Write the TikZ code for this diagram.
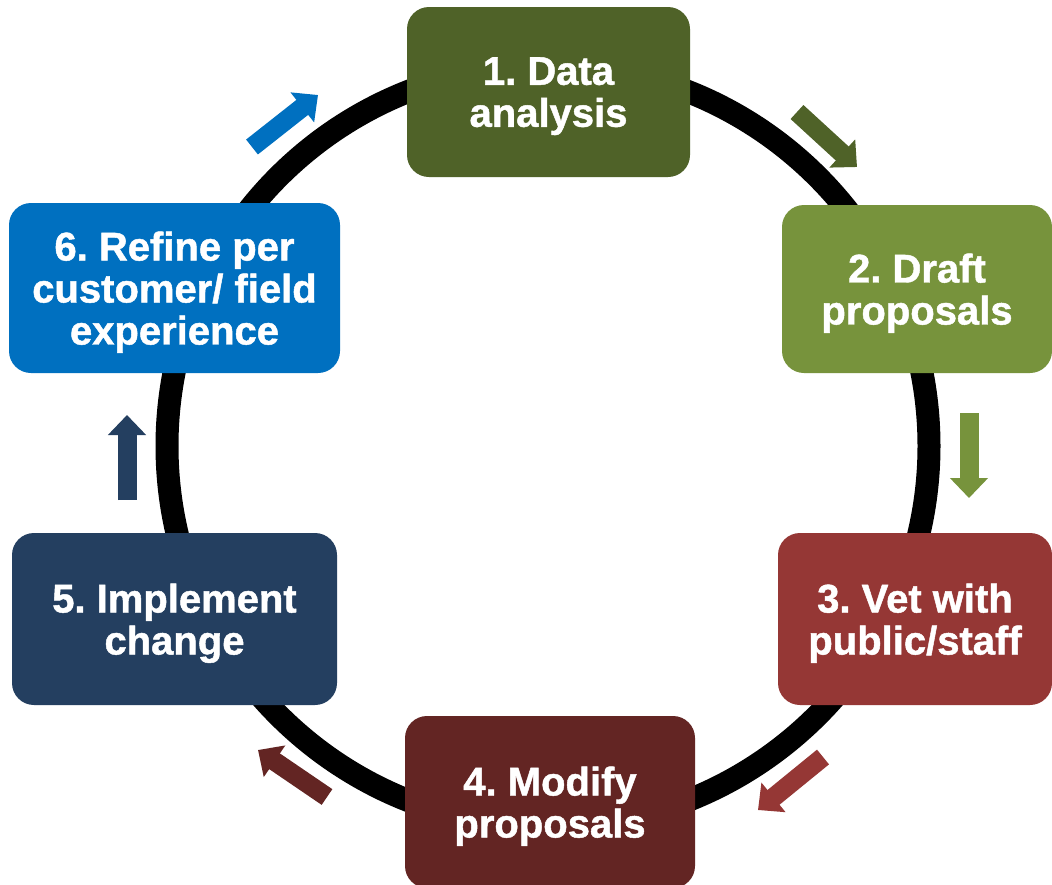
\documentclass[tikz,border=0pt]{standalone}
\usepackage{fontspec}
\setmainfont{Liberation Sans}[BoldFeatures={FakeBold=1.2}]
\usetikzlibrary{arrows.meta}
\definecolor{cA}{HTML}{4F6228}
\definecolor{cB}{HTML}{77933C}
\definecolor{cC}{HTML}{953735}
\definecolor{cD}{HTML}{632523}
\definecolor{cE}{HTML}{243F60}
\definecolor{cF}{HTML}{0070C0}
\frenchspacing
\tikzset{
  stagebox/.style={rectangle, rounded corners=22pt, inner sep=0pt, align=center,
    text depth=0pt, text=white, font=\frenchspacing\bfseries\fontsize{40}{42}\selectfont},
  blockarrow/.style={line width=19pt, -{Triangle[width=37pt,length=20pt]}},
  ring/.style={line width=23pt, black}
}
\begin{document}
\begin{tikzpicture}[x=1pt,y=-1pt]
\useasboundingbox (0,0) rectangle (1052,884);
\fill[white] (0,0) rectangle (1052,884);
\draw[ring] (548,446) circle (381pt);
\node[stagebox, fill=cA, minimum width=283pt, minimum height=170pt] (n1) at (548.5,92) {1. Data\\analysis};
\node[stagebox, fill=cB, minimum width=270pt, minimum height=168pt] (n2) at (917,289) {2. Draft\\proposals};
\node[stagebox, fill=cC, minimum width=274pt, minimum height=172pt] (n3) at (915,619) {3. Vet with\\public/staff};
\node[stagebox, fill=cD, minimum width=290pt, minimum height=172pt] (n4) at (550,802) {4. Modify\\proposals};
\node[stagebox, fill=cE, minimum width=325pt, minimum height=172pt] (n5) at (174.5,619) {5. Implement\\change};
\node[stagebox, fill=cF, minimum width=331pt, minimum height=170pt] (n6) at (174.5,288) {6. Refine per\\customer/ field\\experience};
\coordinate (a61s) at (252,147); \coordinate (a61e) at (318,95);
\coordinate (a12s) at (797,112); \coordinate (a12e) at (857,167);
\coordinate (a23s) at (969,413); \coordinate (a23e) at (969,498);
\coordinate (a34s) at (823,757); \coordinate (a34e) at (758,810);
\coordinate (a45s) at (327,797); \coordinate (a45e) at (258,750);
\coordinate (a56s) at (127,500); \coordinate (a56e) at (127,415);
\draw[blockarrow, cF] (a61s) -- (a61e);
\draw[blockarrow, cA] (a12s) -- (a12e);
\draw[blockarrow, cB] (a23s) -- (a23e);
\draw[blockarrow, cC] (a34s) -- (a34e);
\draw[blockarrow, cD] (a45s) -- (a45e);
\draw[blockarrow, cE] (a56s) -- (a56e);
\end{tikzpicture}
\end{document}
